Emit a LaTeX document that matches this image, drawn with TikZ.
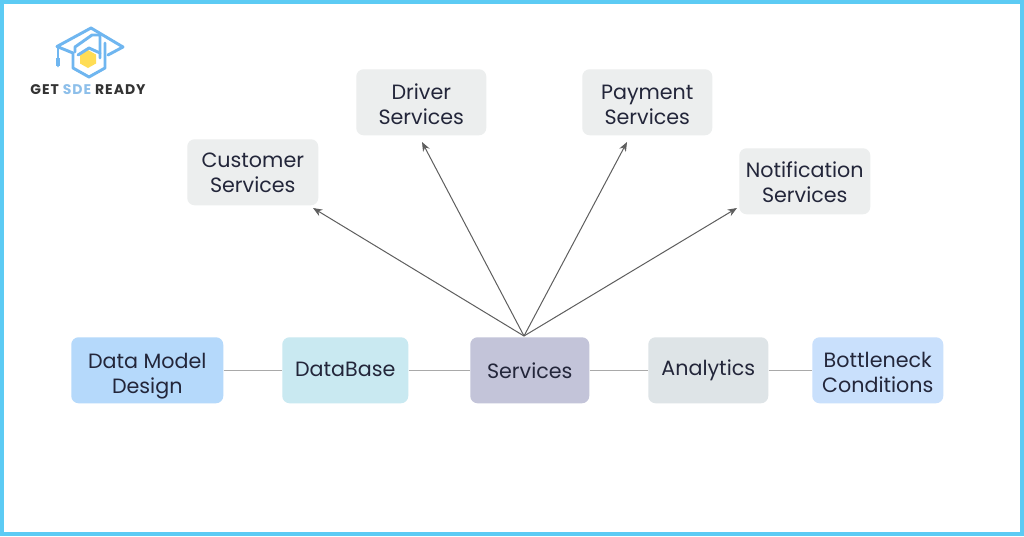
\documentclass[tikz,border=0pt]{standalone}
\usepackage{fontspec}
\setmainfont{Poppins}
\usetikzlibrary{arrows.meta}
\definecolor{frame}{HTML}{5CCBF4}
\definecolor{ink}{HTML}{23263A}
\definecolor{greybox}{HTML}{ECEEEE}
\definecolor{dmbox}{HTML}{B5D9FB}
\definecolor{dbbox}{HTML}{C9E9F1}
\definecolor{svbox}{HTML}{C3C4D9}
\definecolor{anbox}{HTML}{DEE4E7}
\definecolor{bnbox}{HTML}{C9E0FC}
\definecolor{linkgrey}{HTML}{A9A9A9}
\definecolor{arrowgrey}{HTML}{5E5E5E}
\definecolor{logoblue}{HTML}{6FB6F0}
\definecolor{logoyellow}{HTML}{FFDD55}
\definecolor{logosde}{HTML}{8DBFEA}
\definecolor{logodark}{HTML}{333333}
\tikzset{
  x=0.75pt,y=-0.75pt,
  cardbox/.style={rounded corners=5.5pt,inner sep=0pt,align=center,text=ink,
    font=\fontsize{15.5}{18.6}\selectfont,anchor=north west},
  plainlink/.style={draw=linkgrey,line width=0.9pt},
  fanarrow/.style={draw=arrowgrey,line width=0.75pt,-{Stealth[length=7pt,width=5.5pt]}},
  logoline/.style={draw=logoblue,line width=2.2pt,line join=round,line cap=round},
}
% name x0 y0 x1 y1 fill text-shift(px, down) text
\newcommand{\card}[8]{%
  \pgfmathsetmacro{\cw}{(#4-#2)*0.75}\pgfmathsetmacro{\ch}{(#5-#3)*0.75}
  \pgfmathsetmacro{\cs}{-(#7+7.3)*0.75}
  \node[cardbox,fill=#6,minimum width=\cw pt,minimum height=\ch pt] (#1) at (#2,#3)
    {\raisebox{\cs pt}[0pt][0pt]{$\vcenter{\hbox{\begin{tabular}{@{}c@{}}#8\end{tabular}}}$}};}
\begin{document}
\begin{tikzpicture}
\useasboundingbox (0,0) rectangle (1024,536);
\fill[white] (0,0) rectangle (1024,536);
\draw[frame,line width=2.9pt] (1.9,1.9) rectangle (1022.1,534.1);
% logo
\fill[logoyellow] (88,50) -- (96,54.5) -- (96,63.5) -- (88,68) -- (80,63.5) -- (80,54.5) -- cycle;
\draw[logoline] (73,53) -- (57,46.5) -- (91,28) -- (123,47) -- (108,55);
\draw[logoline] (75,52) -- (75,47) -- (92,35) -- (100,35) -- (100,58);
\draw[logoline] (105,43) -- (105,68) -- (89,77) -- (73,68) -- (73,53);
\draw[logoline] (78,55) -- (89,48) -- (100,53);
\draw[logoline] (58,47) -- (58,66);
\draw[logoblue,line width=3pt] (58,58) -- (58,66);
\node[inner sep=0pt,font=\fontsize{10.5}{11}\bfseries\selectfont,text=logodark] (logotext) at (88,89.5)
  {\addfontfeature{LetterSpace=7}GET {\color{logosde}SDE} READY};
% cards
\card{customer}{187}{139}{318}{205}{greybox}{0}{Customer\\Services}
\card{driver}{356}{69}{486}{135}{greybox}{2.5}{Driver\\Services}
\card{payment}{582}{69}{712}{135}{greybox}{2.5}{Payment\\Services}
\card{notification}{739}{148}{870}{214}{greybox}{1.5}{Notification\\Services}
\card{datamodel}{71}{337}{223}{403}{dmbox}{3}{Data Model\\Design}
\card{database}{282}{337}{408}{403}{dbbox}{-1}{DataBase}
\card{services}{470}{337}{589}{403}{svbox}{1}{Services}
\card{analytics}{648}{337}{768}{403}{anbox}{-2}{Analytics}
\card{bottleneck}{812}{337}{943}{403}{bnbox}{2}{Bottleneck\\Conditions}
% links
\coordinate (apex) at (524,336);
\coordinate (tipc) at (313,208);
\coordinate (tipd) at (422,142);
\coordinate (tipp) at (627,142);
\coordinate (tipn) at (737,208);
\draw[plainlink] (datamodel.east) -- (database.west);
\draw[plainlink] (database.east) -- (services.west);
\draw[plainlink] (services.east) -- (analytics.west);
\draw[plainlink] (analytics.east) -- (bottleneck.west);
\draw[fanarrow] (apex) -- (tipc);
\draw[fanarrow] (apex) -- (tipd);
\draw[fanarrow] (apex) -- (tipp);
\draw[fanarrow] (apex) -- (tipn);
\end{tikzpicture}
\end{document}
